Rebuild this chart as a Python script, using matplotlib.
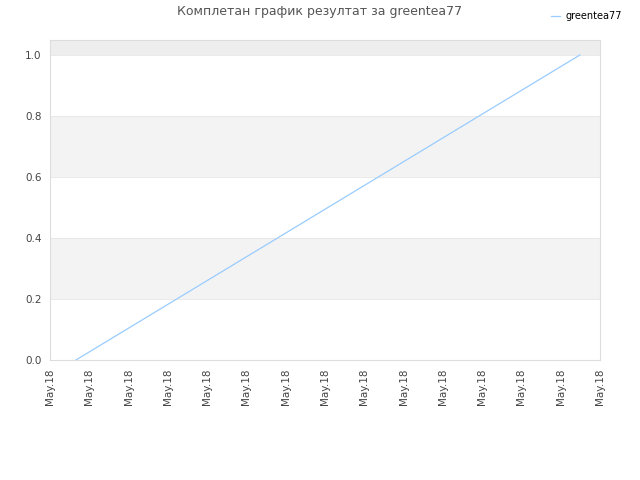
import matplotlib
matplotlib.use('Agg')
import matplotlib.pyplot as plt

# data
player = 'greentea77'
x_pos = [0.66, 13.49]
scores = [0.0, 1.0]
tick_labels = ['May.18'] * 15
y_ticks = [0.0, 0.2, 0.4, 0.6, 0.8, 1.0]

fig = plt.figure(figsize=(6.4, 4.8), dpi=100)
ax = fig.add_axes([50 / 640, 1 - 360 / 480, 550 / 640, 320 / 480])

ymax = 1.049
# alternating bands
ax.axhspan(0.2, 0.4, color='#f3f3f3', lw=0, zorder=0)
ax.axhspan(0.6, 0.8, color='#f3f3f3', lw=0, zorder=0)
ax.axhspan(1.0, ymax, color='#eeeeee', lw=0, zorder=0)
for y in y_ticks[1:]:
    ax.axhline(y, color='#e6e6e6', lw=0.6, zorder=1)

ax.plot(x_pos, scores, color='#99ccff', lw=0.9, label=player, zorder=3)

ax.set_xlim(0, 14)
ax.set_ylim(0, ymax)
ax.set_xticks(range(15))
ax.set_xticklabels(tick_labels, rotation=90, fontsize=7.5, color='#444444')
ax.set_yticks(y_ticks)
ax.set_yticklabels([f'{v:.1f}' for v in y_ticks], fontsize=7.5, color='#444444')
ax.tick_params(length=0, pad=6)
for s in ax.spines.values():
    s.set_color('#dddddd')
    s.set_linewidth(0.8)

fig.text(0.5, 1 - 12 / 480, 'Комплетан график резултат за greentea77',
         ha='center', va='center', fontsize=9, color='#555555')
fig.legend(loc='upper right', bbox_to_anchor=(0.985, 0.995), frameon=False,
           fontsize=7, handlelength=1.0, handletextpad=0.5)

fig.savefig('out.png', dpi=100)
